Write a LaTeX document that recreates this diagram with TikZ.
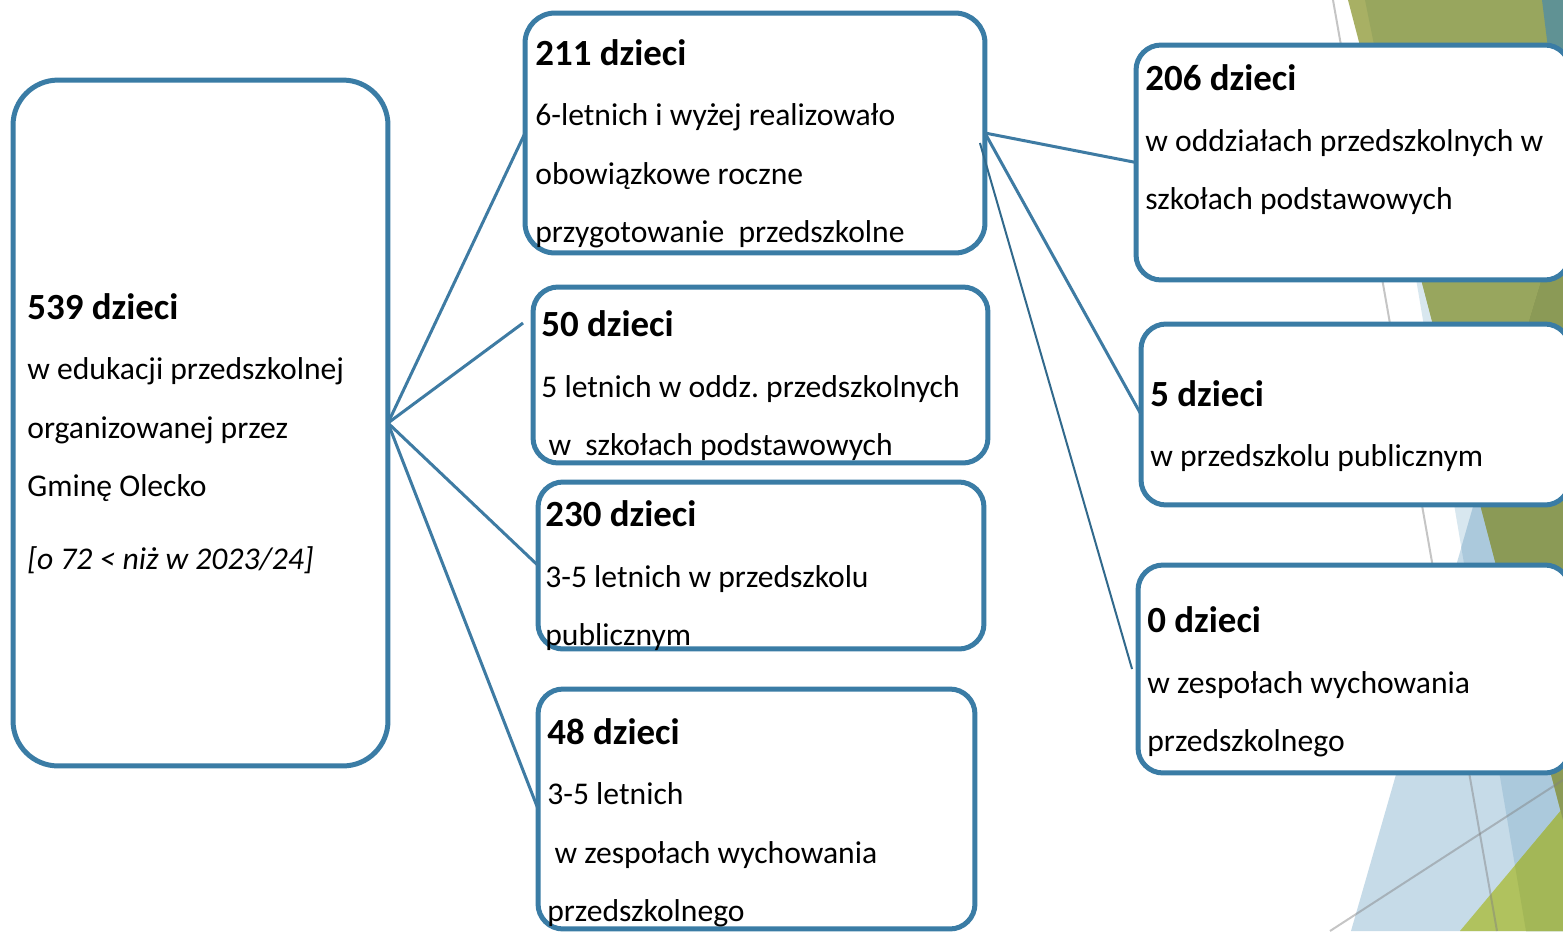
\documentclass[tikz,border=0pt]{standalone}
\usepackage{fontspec}
\setmainfont{Carlito}
\frenchspacing
\definecolor{boxblue}{HTML}{3A7CA5}
\definecolor{linkblue}{HTML}{3E7BA3}
\definecolor{paleblue}{HTML}{D8E7EF}
\definecolor{lightblue}{HTML}{C6DBE8}
\definecolor{midblue}{HTML}{ABC9DC}
\definecolor{limegreen}{HTML}{B0C25E}
\definecolor{darklime}{HTML}{A3B757}
\definecolor{olivelight}{HTML}{A8B064}
\definecolor{olivemid}{HTML}{98A65E}
\definecolor{olivedark}{HTML}{8B9A56}
\definecolor{tealgray}{HTML}{609294}
\usetikzlibrary{positioning}
\tikzset{
  box/.style={draw=boxblue, line width=0.1cm, fill=white, rounded corners=0.5cm,
    inner sep=0pt, outer sep=0pt},
  txt/.style={anchor=base west, align=left, inner sep=0pt,
    font=\fontsize{18pt}{1.17cm}\selectfont},
  link/.style={draw=linkblue, line width=0.06cm},
  grayline/.style={draw=gray, line width=0.04cm, opacity=0.45}
}
\newcommand{\hd}[1]{{\fontsize{21pt}{1.17cm}\selectfont\bfseries #1}}
\begin{document}
\begin{tikzpicture}[x=0.02cm,y=-0.02cm]
				\useasboundingbox (0,0) rectangle (1563,931);
				\clip (0,0) rectangle (1563,931);
				\fill[white] (0,0) rectangle (1563,931);
				
				% background facets
				\fill[paleblue] (1369,0) -- (1563,0) -- (1563,931) -- (1526,931) -- cycle;
				\fill[lightblue] (1477,493) -- (1604,931) -- (1351,931) -- cycle;
				\begin{scope}
					\clip (1369,0) -- (1563,0) -- (1563,931) -- (1526,931) -- cycle;
					\fill[midblue] (1477,493) -- (1604,931) -- (1351,931) -- cycle;
				\end{scope}
				\fill[limegreen] (1460,931) -- (1563,808) -- (1563,931) -- cycle;
				\begin{scope}
					\clip (1369,0) -- (1563,0) -- (1563,931) -- (1526,931) -- cycle;
					\fill[darklime] (1460,931) -- (1563,808) -- (1563,931) -- cycle;
				\end{scope}
				\fill[olivelight] (1348,0) -- (1563,0) -- (1563,820) -- cycle;
				\fill[olivedark] (1477,493) -- (1563,207) -- (1563,820) -- cycle;
				\fill[olivemid] (1365,0) -- (1563,0) -- (1563,207) -- (1477,493) -- (1422,283) -- cycle;
				\fill[tealgray] (1542,0) -- (1563,0) -- (1563,168) -- cycle;
				\draw[grayline] (1333,0) -- (1497,931);
				\draw[grayline] (1330,931) -- (1563,780);
				
				\begin{scope}[every node/.style={box}]
					\node (Total) [minimum width=7.5cm, minimum height=13.72cm, rounded corners=0.9cm] at (200.5,423) {};
					\node (Age6) [minimum width=9.2cm, minimum height=4.8cm, rounded corners=0.6cm] at (755,133) {};
					\node (Age5) [minimum width=9.1cm, minimum height=3.52cm] at (760.5,375) {};
					\node (Pre35) [minimum width=8.92cm, minimum height=3.34cm] at (761,565.5) {};
					\node (Zwp35) [minimum width=8.74cm, minimum height=4.8cm] at (756.5,809) {};
					\node (Oddz6) [minimum width=8.68cm, minimum height=4.7cm] at (1353,162.5) {};
					\node (Pre6) [minimum width=8.58cm, minimum height=3.62cm] at (1355.5,414.5) {};
					\node (Zwp6) [minimum width=8.64cm, minimum height=4.16cm] at (1354,669) {};
				\end{scope}
				
				% text blocks, placed at the baseline of their last line
				\node (TotalText) [txt] at (27,569.5) {\hd{539 dzieci}\\[0.04cm]
					w edukacji przedszkolnej\\ organizowanej przez\\ Gminę Olecko\\[0.29cm]
					\textit{[o 72 < niż w 2023/24]}};
				\node (Age6Text) [txt] at (535,242.5) {\hd{211 dzieci}\\[0.04cm]
					6-letnich i wyżej realizowało\\ obowiązkowe roczne\\ przygotowanie\ \ przedszkolne};
				\node (Age5Text) [txt] at (541,455.5) {\hd{50 dzieci}\\[0.04cm]
					5 letnich w oddz. przedszkolnych\\ \ w\ \ szkołach podstawowych};
				\node (Pre35Text) [txt] at (545,645.5) {\hd{230 dzieci}\\[0.04cm]
					3-5 letnich w przedszkolu\\ publicznym};
				\node (Zwp35Text) [txt] at (547,921.5) {\hd{48 dzieci}\\[0.04cm]
					3-5 letnich\\ \ w zespołach wychowania\\ przedszkolnego};
				\node (Oddz6Text) [txt] at (1145,209.5) {\hd{206 dzieci}\\[0.04cm]
					w oddziałach przedszkolnych w\\ szkołach podstawowych};
				\node (Pre6Text) [txt] at (1150,466.5) {\hd{5 dzieci}\\[0.04cm]
					w przedszkolu publicznym};
				\node (Zwp6Text) [txt] at (1147,751.5) {\hd{0 dzieci}\\[0.04cm]
					w zespołach wychowania\\ przedszkolnego};
				
				\coordinate (Age5In) at ([xshift=-0.2cm,yshift=-0.72cm]Age5.north west);
				\draw[link] (Total.east) -- (Age6.west);
				\draw[link] (Total.east) -- (Age5In);
				\draw[link] (Total.east) -- (Pre35.west);
				\draw[link] (Total.east) -- (Zwp35.west);
				\draw[link] (Age6.east) -- (Oddz6.west);
				\draw[link] (Age6.east) -- (Pre6.west);
				\draw[link, line width=0.04cm, draw=boxblue!85!black] ([xshift=-0.1cm,yshift=-0.2cm]Age6.east) -- ([xshift=-0.12cm]Zwp6.west);
			\end{tikzpicture}
\end{document}
